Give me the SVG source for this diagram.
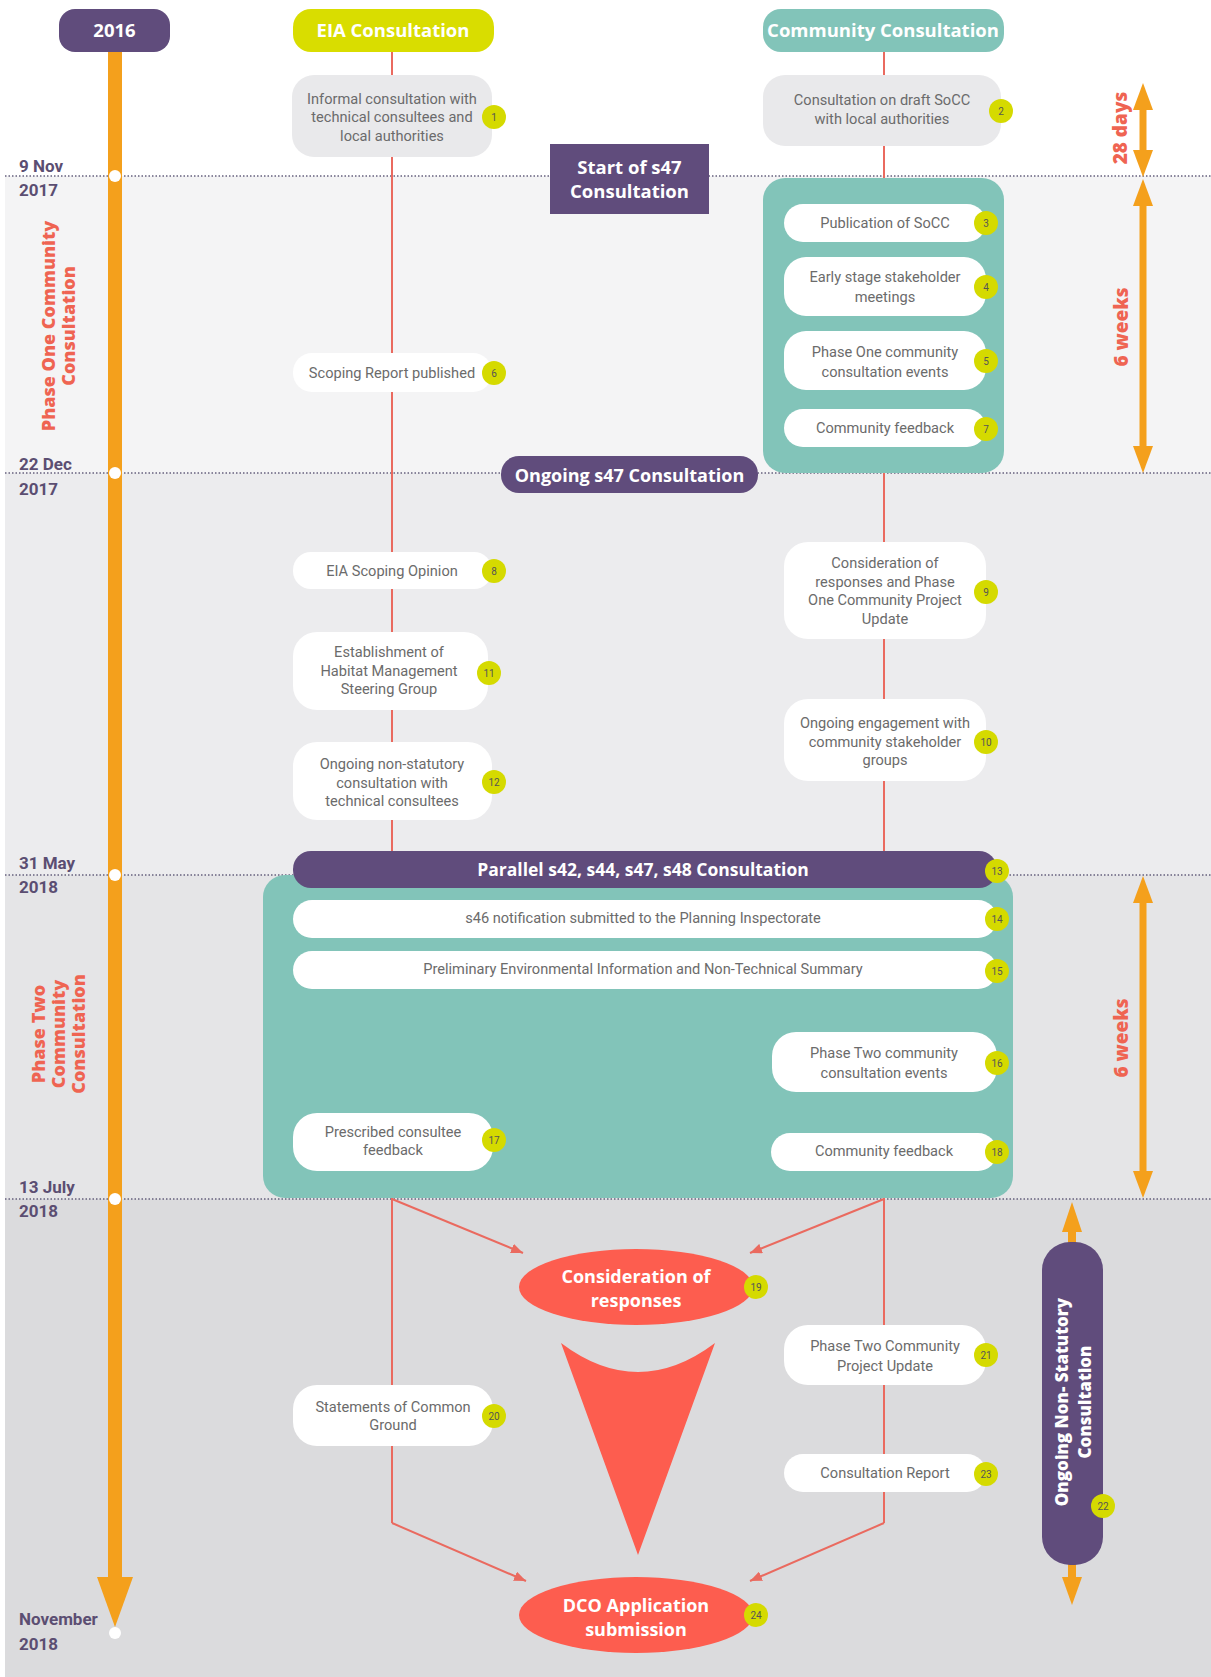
<svg xmlns="http://www.w3.org/2000/svg" width="1211" height="1677" viewBox="0 0 1211 1677">
<defs>
<style>
.t{font-family:Roboto,"Liberation Sans",sans-serif;font-size:14.6px;fill:#6b6b6b;text-anchor:middle}
.h{font-family:"Open Sans","Liberation Sans",sans-serif;font-weight:700;fill:#fff;text-anchor:middle}
.v{font-family:"Open Sans","Liberation Sans",sans-serif;font-weight:800;font-size:18px;fill:#ef6452;text-anchor:middle}
.vw{font-family:"Open Sans","Liberation Sans",sans-serif;font-weight:800;font-size:17px;fill:#fff;text-anchor:middle}
.d{font-family:Roboto,"Liberation Sans",sans-serif;font-weight:700;font-size:17px;fill:#5b4e72}
.bc{fill:#d5da00}
.bn{font-family:Roboto,"Liberation Sans",sans-serif;font-size:10px;fill:#555;text-anchor:middle}
.nw{fill:#fff}
.ng{fill:#e9e9eb}
.pur{fill:#604c7c}
.teal{fill:#82c4b9}
.red{fill:#fd5d4f}
.org{fill:#f4a01c}
.conn{stroke:#ea6a5f;stroke-width:2;fill:none}
.dotl{stroke:#66607e;stroke-width:1.5;stroke-dasharray:1.5 2}
.oshaft{stroke:#f4a01c;stroke-width:7}
</style>
<marker id="ah" viewBox="0 0 12 10" refX="12" refY="5" markerWidth="12" markerHeight="10" markerUnits="userSpaceOnUse" orient="auto">
<path d="M0,0 L12,5 L0,10 z" fill="#ea6a5f"/>
</marker>
</defs>

<g id="background">
<rect x="0" y="0" width="1211" height="1677" fill="#ffffff"/>
<rect x="5" y="176" width="1206" height="297" fill="#f4f4f5"/>
<rect x="5" y="473" width="1206" height="402" fill="#ececee"/>
<rect x="5" y="875" width="1206" height="324" fill="#e5e5e7"/>
<rect x="5" y="1199" width="1206" height="478" fill="#dbdbdd"/>
<line class="dotl" x1="5" y1="176" x2="1211" y2="176"/>
<line class="dotl" x1="5" y1="473" x2="1211" y2="473"/>
<line class="dotl" x1="5" y1="875" x2="1211" y2="875"/>
<line class="dotl" x1="5" y1="1199" x2="1211" y2="1199"/>
</g>

<g id="dates">
<text class="d" x="19" y="172">9 Nov</text>
<text class="d" x="19" y="196">2017</text>
<text class="d" x="19" y="470">22 Dec</text>
<text class="d" x="19" y="495">2017</text>
<text class="d" x="19" y="869">31 May</text>
<text class="d" x="19" y="893">2018</text>
<text class="d" x="19" y="1193">13 July</text>
<text class="d" x="19" y="1217">2018</text>
<text class="d" x="19" y="1625">November</text>
<text class="d" x="19" y="1650">2018</text>
</g>

<g id="phase-labels">
<g transform="translate(59,326) rotate(-90)">
<text class="v" x="0" y="-4">Phase One Community</text>
<text class="v" x="0" y="16">Consultation</text>
</g>
<g transform="translate(59,1034) rotate(-90)">
<text class="v" x="0" y="-14">Phase Two</text>
<text class="v" x="0" y="6">Community</text>
<text class="v" x="0" y="26">Consultation</text>
</g>
</g>

<g id="timeline">
<rect class="org" x="108" y="51" width="14" height="1527"/>
<polygon class="org" points="97,1577 133,1577 115,1627"/>
<circle cx="115" cy="176" r="6" fill="#fff"/>
<circle cx="115" cy="473" r="6" fill="#fff"/>
<circle cx="115" cy="875" r="6" fill="#fff"/>
<circle cx="115" cy="1199" r="6" fill="#fff"/>
<circle cx="115" cy="1633" r="6" fill="#fff"/>
</g>

<g id="durations">
<line class="oshaft" x1="1143" y1="105" x2="1143" y2="155"/>
<polygon class="org" points="1143,83 1133,110 1153,110"/>
<polygon class="org" points="1143,177 1133,150 1153,150"/>
<g transform="translate(1120,128) rotate(-90)"><text class="v" x="0" y="6.5" style="font-size:19px">28 days</text></g>
<line class="oshaft" x1="1143" y1="200" x2="1143" y2="452"/>
<polygon class="org" points="1143,179 1133,206 1153,206"/>
<polygon class="org" points="1143,473 1133,446 1153,446"/>
<g transform="translate(1121,327) rotate(-90)"><text class="v" x="0" y="6.5" style="font-size:19px">6 weeks</text></g>
<line class="oshaft" x1="1143" y1="898" x2="1143" y2="1176"/>
<polygon class="org" points="1143,876 1133,903 1153,903"/>
<polygon class="org" points="1143,1198 1133,1171 1153,1171"/>
<g transform="translate(1121,1038) rotate(-90)"><text class="v" x="0" y="6.5" style="font-size:19px">6 weeks</text></g>
<line class="oshaft" x1="1072" y1="1225" x2="1072" y2="1243" style="stroke-width:8"/>
<polygon class="org" points="1072,1202 1062,1232 1082,1232"/>
<line class="oshaft" x1="1072" y1="1564" x2="1072" y2="1582" style="stroke-width:8"/>
<polygon class="org" points="1072,1605 1062,1577 1082,1577"/>
</g>

<g id="connectors">
<line class="conn" x1="392" y1="51" x2="392" y2="1523"/>
<line class="conn" x1="884" y1="51" x2="884" y2="1523"/>
<line class="conn" x1="392" y1="1199" x2="523" y2="1253" marker-end="url(#ah)"/>
<line class="conn" x1="884" y1="1199" x2="750" y2="1253" marker-end="url(#ah)"/>
<polyline class="conn" points="392,1523 526,1581" marker-end="url(#ah)"/>
<polyline class="conn" points="884,1523 750,1581" marker-end="url(#ah)"/>
</g>

<g id="header-2016">
<rect class="pur" x="59" y="9" width="111" height="43" rx="16"/>
<text class="h" x="114.5" y="37" style="font-size:18.5px">2016</text>
</g>
<g id="header-eia">
<rect x="293" y="9" width="201" height="43" rx="18" fill="#d9dd00"/>
<text class="h" x="393" y="37" style="font-size:18.5px">EIA Consultation</text>
</g>
<g id="header-community">
<rect class="teal" x="763" y="9" width="241" height="43" rx="18"/>
<text class="h" x="883" y="37" style="font-size:18.5px">Community Consultation</text>
</g>

<g id="start-s47">
<rect class="pur" x="550" y="144" width="159" height="70"/>
<text class="h" x="629.5" y="174" style="font-size:18.5px">Start of s47</text>
<text class="h" x="629.5" y="198" style="font-size:18.5px">Consultation</text>
</g>

<g id="phase-one-box">
<rect class="teal" x="763" y="178" width="241" height="295" rx="22"/>
</g>

<g id="n1">
<rect class="ng" x="292" y="75" width="200" height="82" rx="22"/>
<text class="t" x="392" y="104">Informal consultation with</text>
<text class="t" x="392" y="122">technical consultees and</text>
<text class="t" x="392" y="141">local authorities</text>
<circle class="bc" cx="494" cy="117" r="12"/><text class="bn" x="494" y="120.5">1</text>
</g>
<g id="n2">
<rect class="ng" x="763" y="75" width="238" height="71" rx="22"/>
<text class="t" x="882" y="105">Consultation on draft SoCC</text>
<text class="t" x="882" y="124">with local authorities</text>
<circle class="bc" cx="1001" cy="111" r="12"/><text class="bn" x="1001" y="114.5">2</text>
</g>
<g id="n3">
<rect class="nw" x="784" y="204" width="202" height="38" rx="19"/>
<text class="t" x="885" y="228">Publication of SoCC</text>
<circle class="bc" cx="986" cy="223" r="12"/><text class="bn" x="986" y="226.5">3</text>
</g>
<g id="n4">
<rect class="nw" x="784" y="257" width="202" height="59" rx="22"/>
<text class="t" x="885" y="282">Early stage stakeholder</text>
<text class="t" x="885" y="302">meetings</text>
<circle class="bc" cx="986" cy="287" r="12"/><text class="bn" x="986" y="290.5">4</text>
</g>
<g id="n5">
<rect class="nw" x="784" y="331" width="202" height="59" rx="22"/>
<text class="t" x="885" y="357">Phase One community</text>
<text class="t" x="885" y="377">consultation events</text>
<circle class="bc" cx="986" cy="361" r="12"/><text class="bn" x="986" y="364.5">5</text>
</g>
<g id="n7">
<rect class="nw" x="784" y="409" width="202" height="38" rx="19"/>
<text class="t" x="885" y="433">Community feedback</text>
<circle class="bc" cx="986" cy="429" r="12"/><text class="bn" x="986" y="432.5">7</text>
</g>
<g id="n6">
<rect class="nw" x="293" y="353" width="199" height="39" rx="19"/>
<text class="t" x="392" y="378">Scoping Report published</text>
<circle class="bc" cx="494" cy="373" r="12"/><text class="bn" x="494" y="376.5">6</text>
</g>

<g id="ongoing-s47">
<rect class="pur" x="501" y="456" width="257" height="37" rx="18"/>
<text class="h" x="629.5" y="482" style="font-size:18px">Ongoing s47 Consultation</text>
</g>

<g id="n8">
<rect class="nw" x="293" y="552" width="199" height="37" rx="18"/>
<text class="t" x="392" y="576">EIA Scoping Opinion</text>
<circle class="bc" cx="494" cy="571" r="12"/><text class="bn" x="494" y="574.5">8</text>
</g>
<g id="n9">
<rect class="nw" x="784" y="542" width="202" height="97" rx="24"/>
<text class="t" x="885" y="568">Consideration of</text>
<text class="t" x="885" y="586.5">responses and Phase</text>
<text class="t" x="885" y="605">One Community Project</text>
<text class="t" x="885" y="623.5">Update</text>
<circle class="bc" cx="986" cy="592" r="12"/><text class="bn" x="986" y="595.5">9</text>
</g>
<g id="n11">
<rect class="nw" x="293" y="632" width="195" height="78" rx="24"/>
<text class="t" x="389" y="657">Establishment of</text>
<text class="t" x="389" y="676">Habitat Management</text>
<text class="t" x="389" y="694">Steering Group</text>
<circle class="bc" cx="489" cy="673" r="12"/><text class="bn" x="489" y="676.5">11</text>
</g>
<g id="n10">
<rect class="nw" x="784" y="699" width="202" height="82" rx="24"/>
<text class="t" x="885" y="728">Ongoing engagement with</text>
<text class="t" x="885" y="747">community stakeholder</text>
<text class="t" x="885" y="765">groups</text>
<circle class="bc" cx="986" cy="742" r="12"/><text class="bn" x="986" y="745.5">10</text>
</g>
<g id="n12">
<rect class="nw" x="293" y="742" width="199" height="78" rx="24"/>
<text class="t" x="392" y="769">Ongoing non-statutory</text>
<text class="t" x="392" y="788">consultation with</text>
<text class="t" x="392" y="806">technical consultees</text>
<circle class="bc" cx="494" cy="782" r="12"/><text class="bn" x="494" y="785.5">12</text>
</g>

<g id="phase-two-box">
<rect class="teal" x="263" y="875" width="750" height="323" rx="22"/>
</g>
<g id="n13">
<rect class="pur" x="293" y="851" width="704" height="37" rx="18"/>
<text class="h" x="643" y="876" style="font-size:17.5px">Parallel s42, s44, s47, s48 Consultation</text>
<circle class="bc" cx="997" cy="871" r="12"/><text class="bn" x="997" y="874.5">13</text>
</g>
<g id="n14">
<rect class="nw" x="293" y="900" width="704" height="38" rx="19"/>
<text class="t" x="643" y="923">s46 notification submitted to the Planning Inspectorate</text>
<circle class="bc" cx="997" cy="919" r="12"/><text class="bn" x="997" y="922.5">14</text>
</g>
<g id="n15">
<rect class="nw" x="293" y="951" width="704" height="38" rx="19"/>
<text class="t" x="643" y="974">Preliminary Environmental Information and Non-Technical Summary</text>
<circle class="bc" cx="997" cy="971" r="12"/><text class="bn" x="997" y="974.5">15</text>
</g>
<g id="n16">
<rect class="nw" x="772" y="1032" width="225" height="60" rx="24"/>
<text class="t" x="884" y="1058">Phase Two community</text>
<text class="t" x="884" y="1078">consultation events</text>
<circle class="bc" cx="997" cy="1063" r="12"/><text class="bn" x="997" y="1066.5">16</text>
</g>
<g id="n17">
<rect class="nw" x="293" y="1113" width="200" height="58" rx="24"/>
<text class="t" x="393" y="1137">Prescribed consultee</text>
<text class="t" x="393" y="1155">feedback</text>
<circle class="bc" cx="494" cy="1140" r="12"/><text class="bn" x="494" y="1143.5">17</text>
</g>
<g id="n18">
<rect class="nw" x="771" y="1133" width="226" height="38" rx="19"/>
<text class="t" x="884" y="1156">Community feedback</text>
<circle class="bc" cx="997" cy="1152" r="12"/><text class="bn" x="997" y="1155.5">18</text>
</g>

<g id="n19">
<ellipse class="red" cx="636" cy="1287" rx="117" ry="38"/>
<text class="h" x="636" y="1283" style="font-size:18px">Consideration of</text>
<text class="h" x="636" y="1307" style="font-size:18px">responses</text>
<circle class="bc" cx="756" cy="1287" r="12"/><text class="bn" x="756" y="1290.5">19</text>
</g>
<g id="funnel">
<path class="red" d="M561,1343 Q638,1401 715,1343 L638,1555 Z"/>
</g>
<g id="n21">
<rect class="nw" x="784" y="1325" width="202" height="60" rx="24"/>
<text class="t" x="885" y="1351">Phase Two Community</text>
<text class="t" x="885" y="1371">Project Update</text>
<circle class="bc" cx="986" cy="1355" r="12"/><text class="bn" x="986" y="1358.5">21</text>
</g>
<g id="n20">
<rect class="nw" x="293" y="1385" width="200" height="61" rx="24"/>
<text class="t" x="393" y="1412">Statements of Common</text>
<text class="t" x="393" y="1430">Ground</text>
<circle class="bc" cx="494" cy="1416" r="12"/><text class="bn" x="494" y="1419.5">20</text>
</g>
<g id="n23">
<rect class="nw" x="784" y="1454" width="202" height="38" rx="19"/>
<text class="t" x="885" y="1478">Consultation Report</text>
<circle class="bc" cx="986" cy="1474" r="12"/><text class="bn" x="986" y="1477.5">23</text>
</g>
<g id="n22">
<rect class="pur" x="1042" y="1242" width="61" height="323" rx="28"/>
<g transform="translate(1073,1402) rotate(-90)">
<text class="vw" x="0" y="-5">Ongoing Non- Statutory</text>
<text class="vw" x="0" y="18">Consultation</text>
</g>
<circle class="bc" cx="1103" cy="1506" r="12"/><text class="bn" x="1103" y="1509.5">22</text>
</g>
<g id="n24">
<ellipse class="red" cx="636" cy="1615" rx="117" ry="38"/>
<text class="h" x="636" y="1612" style="font-size:18px">DCO Application</text>
<text class="h" x="636" y="1636" style="font-size:18px">submission</text>
<circle class="bc" cx="756" cy="1615" r="12"/><text class="bn" x="756" y="1618.5">24</text>
</g>
</svg>
